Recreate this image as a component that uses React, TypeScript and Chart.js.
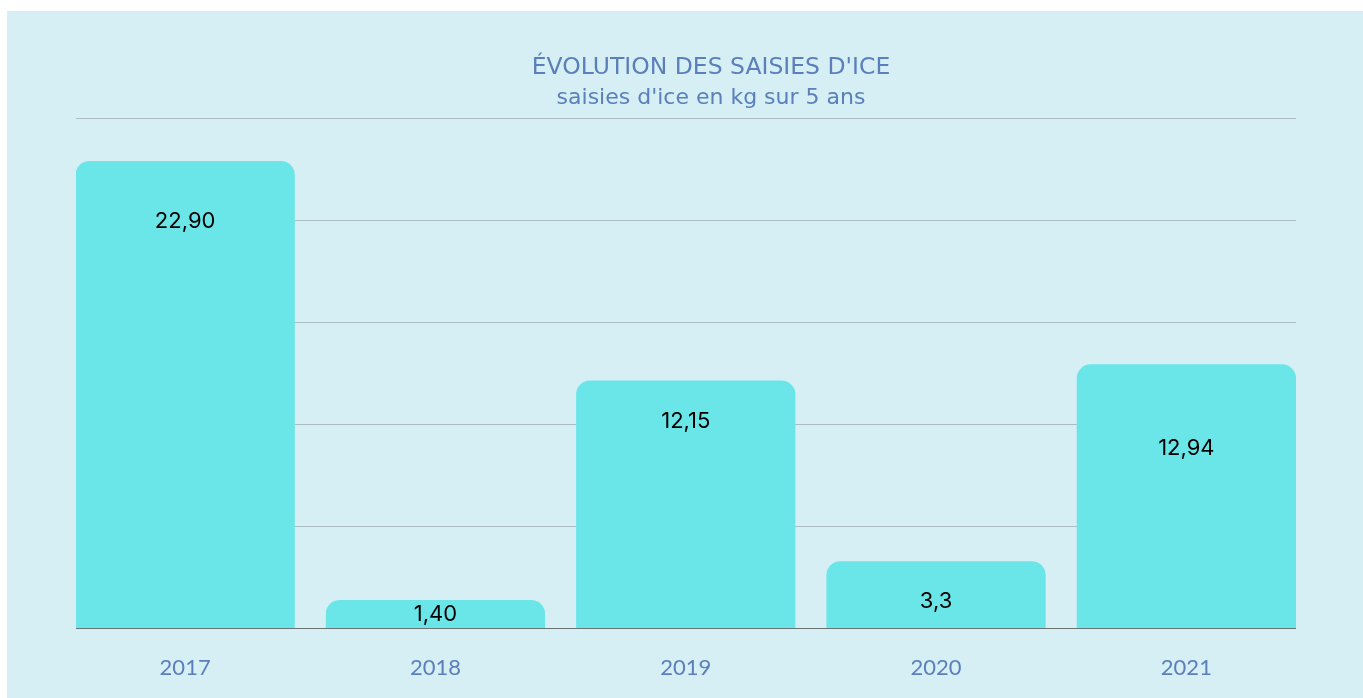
import React, { useEffect, useRef } from "react";
import { Chart, registerables } from "chart.js";

Chart.register(...registerables);

const years = ["2017", "2018", "2019", "2020", "2021"];
const seizuresKg = [22.9, 1.4, 12.15, 3.3, 12.94];
const valueLabels = ["22,90", "1,40", "12,15", "3,3", "12,94"];
const labelOffsets = [61, 14, 41, 40, 84];
const titleText = "ÉVOLUTION DES SAISIES D'ICE";
const subtitleText = "saisies d'ice en kg sur 5 ans";

const TITLE_FONT = "'DejaVu Sans', sans-serif";
const TEXT_BLUE = "#5a7fbb";

const valueLabelPlugin = {
  id: "valueLabels",
  afterDatasetsDraw(chart: any) {
    const ctx = chart.ctx;
    const meta = chart.getDatasetMeta(0);
    ctx.save();
    ctx.font = "22px Inter, sans-serif";
    ctx.fillStyle = "#000000";
    ctx.textAlign = "center";
    ctx.textBaseline = "middle";
    meta.data.forEach((bar: any, i: number) => {
      ctx.fillText(valueLabels[i], bar.x, bar.y + labelOffsets[i]);
    });
    ctx.restore();
  },
};

const headerPlugin = {
  id: "header",
  afterDraw(chart: any) {
    const ctx = chart.ctx;
    const { left, right, top } = chart.chartArea;
    const cx = (left + right) / 2 + 25;
    ctx.save();
    ctx.fillStyle = TEXT_BLUE;
    ctx.textAlign = "center";
    ctx.textBaseline = "middle";
    ctx.font = `23.5px ${TITLE_FONT}`;
    ctx.fillText(titleText, cx, top - 50);
    ctx.font = `22px ${TITLE_FONT}`;
    ctx.fillText(subtitleText, cx, top - 20);
    ctx.restore();
  },
};

export default function App() {
  const canvasRef = useRef<HTMLCanvasElement | null>(null);

  useEffect(() => {
    if (!canvasRef.current) return;
    const chart = new Chart(canvasRef.current, {
      type: "bar",
      data: {
        datasets: [
          {
            data: seizuresKg.map((v, i) => ({ x: i, y: v })),
            backgroundColor: "#6ae6e9",
            borderWidth: 0,
            borderRadius: { topLeft: 14, topRight: 14, bottomLeft: 0, bottomRight: 0 },
            borderSkipped: false,
            barPercentage: 0.876,
            categoryPercentage: 1,
          },
        ],
      },
      options: {
        animation: false,
        responsive: false,
        layout: { padding: { left: 69, right: 67, top: 107, bottom: -9 } },
        plugins: {
          legend: { display: false },
          tooltip: { enabled: false },
          title: { display: false },
          subtitle: { display: false },
        },
        scales: {
          x: {
            type: "linear",
            min: -0.436,
            max: 4.438,
            offset: false,
            grid: { display: false, drawTicks: false },
            border: { display: false },
            afterBuildTicks: (scale: any) => {
              scale.ticks = years.map((_, i) => ({ value: i }));
            },
            ticks: {
              color: TEXT_BLUE,
              font: { family: "Lato, sans-serif", size: 22 },
              padding: 26,
              autoSkip: false,
              maxRotation: 0,
              callback: (v: any) => years[v as number] ?? "",
            },
          },
          y: {
            min: 0,
            max: 25,
            ticks: { display: false, stepSize: 5 },
            grid: {
              drawTicks: false,
              color: (c: any) => (c.tick && c.tick.value === 0 ? "#6b7272" : "#a9bdc2"),
              lineWidth: 1,
            },
            border: { display: false },
          },
        },
      },
      plugins: [valueLabelPlugin, headerPlugin],
    });
    return () => chart.destroy();
  }, []);

  return (
    <div
      style={{
        position: "absolute",
        left: 7,
        top: 11,
        width: 1356,
        height: 687,
        background: "#d6eff4",
      }}
    >
      <canvas ref={canvasRef} width={1356} height={687} style={{ display: "block" }} />
    </div>
  );
}
